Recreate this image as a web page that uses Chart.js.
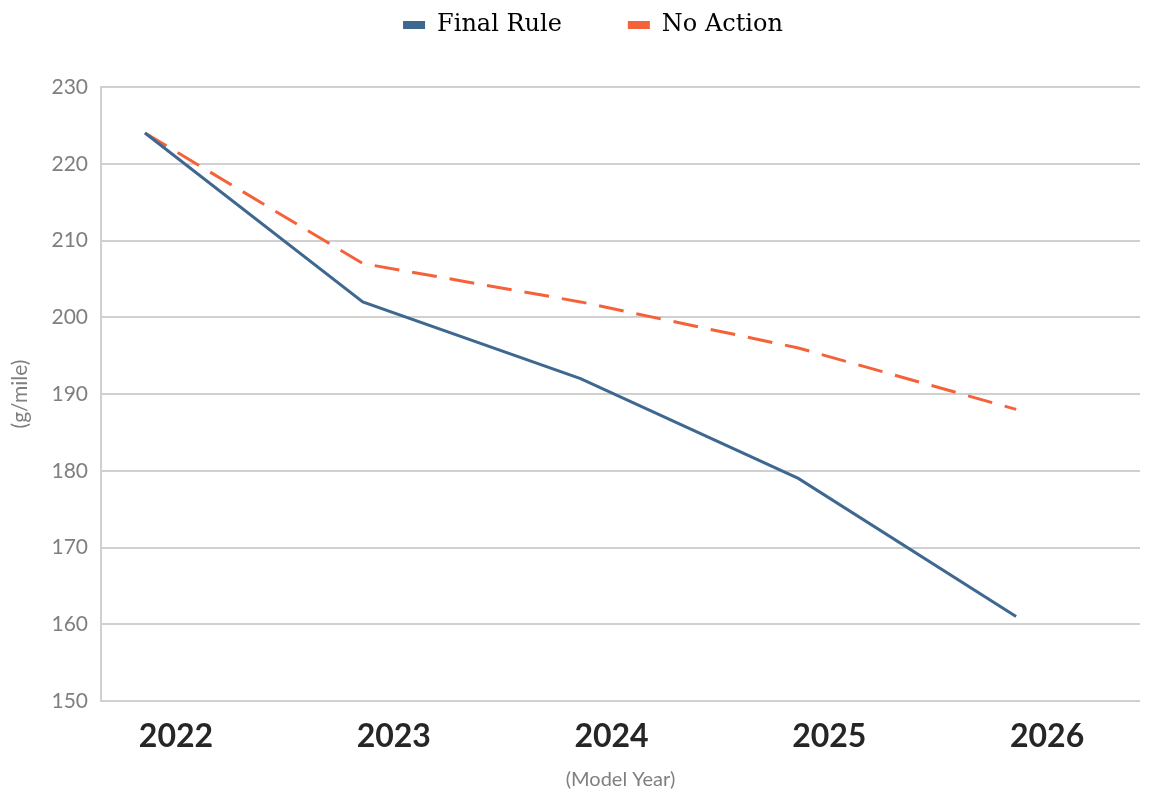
<!DOCTYPE html>
<html>
<head>
<meta charset="utf-8">
<script src="https://cdn.jsdelivr.net/npm/chart.js@4/dist/chart.umd.min.js"></script>
<style>
  html, body { margin: 0; padding: 0; background: #fff; }
  #wrap { width: 1154px; height: 789px; position: relative; }
</style>
</head>
<body>
<div id="wrap"><canvas id="co2Chart"></canvas></div>
<script>
// model years and g/mile values
const years = [2022, 2023, 2024, 2025, 2026];
const finalRule = [224, 202, 192, 179, 161];
const noAction = [224, 207, 202, 196, 188];
const yTicks = [150, 160, 170, 180, 190, 200, 210, 220, 230];

const blue = '#3f6891';
const orange = '#f4623a';

// legend sits high above the plot with wide gaps between items
const legendPlacement = {
    id: 'legendPlacement',
    beforeLayout: function (chart) {
        const lg = chart.legend;
        if (lg && !lg._patched) {
            const fit = lg.fit;
            lg.fit = function () {
                fit.call(this);
                this.height = 87;
            };
            lg._patched = true;
        }
    },
    afterLayout: function (chart) {
        const lg = chart.legend;
        lg.top -= 53;
        lg.bottom -= 53;
        lg.left += 23;
        lg.right += 23;
    }
};

const ctx = document.getElementById('co2Chart').getContext('2d');

new Chart(ctx, {
    type: 'line',
    data: {
        datasets: [{
            label: 'Final Rule',
            data: years.map((yr, i) => ({ x: yr, y: finalRule[i] })),
            borderColor: blue,
            backgroundColor: blue,
            borderWidth: 3,
            pointRadius: 0,
            tension: 0
        }, {
            label: 'No Action',
            data: years.map((yr, i) => ({ x: yr, y: noAction[i] })),
            borderColor: orange,
            backgroundColor: orange,
            borderWidth: 3,
            borderDash: [25, 13],
            pointRadius: 0,
            tension: 0
        }]
    },
    plugins: [legendPlacement],
    options: {
        responsive: true,
        maintainAspectRatio: false,
        animation: false,
        layout: { padding: { top: 0, right: 14, left: 0, bottom: 0 } },
        plugins: {
            legend: {
                position: 'top',
                labels: {
                    font: { family: '"DejaVu Serif", serif', size: 24 },
                    color: '#3a3a3a',
                    boxWidth: 22,
                    boxHeight: 8,
                    padding: 66,
                    // plain filled boxes, no dash in the swatch
                    generateLabels: function (chart) {
                        return chart.data.datasets.map((ds, i) => ({
                            text: ds.label,
                            fillStyle: ds.borderColor,
                            strokeStyle: ds.borderColor,
                            lineWidth: 0,
                            datasetIndex: i,
                            hidden: false
                        }));
                    }
                }
            },
            tooltip: { enabled: false }
        },
        scales: {
            x: {
                type: 'linear',
                min: 2021.798,
                max: 2026.569,
                grid: { display: false, drawTicks: false },
                border: { display: false },
                afterBuildTicks: function (scale) {
                    scale.ticks = years.map(v => ({ value: v }));
                },
                afterFit: function (scale) { scale.height = 88; },
                ticks: {
                    callback: function (value) { return String(value); },
                    labelOffset: 31,
                    padding: 16,
                    color: '#262626',
                    font: { family: 'Lato, sans-serif', size: 32, weight: 'bold' }
                },
                title: {
                    display: true,
                    text: '(Model Year)',
                    color: '#7f7f7f',
                    font: { family: 'Lato, sans-serif', size: 20 },
                    padding: { top: 10, bottom: -3 }
                }
            },
            y: {
                min: 150,
                max: 230,
                afterBuildTicks: function (scale) {
                    scale.ticks = yTicks.map(v => ({ value: v }));
                },
                afterFit: function (scale) { scale.width = 101; },
                grid: {
                    color: '#d0d0d0',
                    lineWidth: 2,
                    drawTicks: false
                },
                border: { display: true, color: '#d0d0d0', width: 2 },
                ticks: {
                    padding: 13,
                    color: '#7f7f7f',
                    font: { family: 'Lato, sans-serif', size: 21 }
                },
                title: {
                    display: true,
                    text: '(g/mile)',
                    color: '#7f7f7f',
                    font: { family: 'Lato, sans-serif', size: 21 },
                    padding: { top: 8, bottom: 10 }
                }
            }
        }
    }
});
</script>
</body>
</html>
